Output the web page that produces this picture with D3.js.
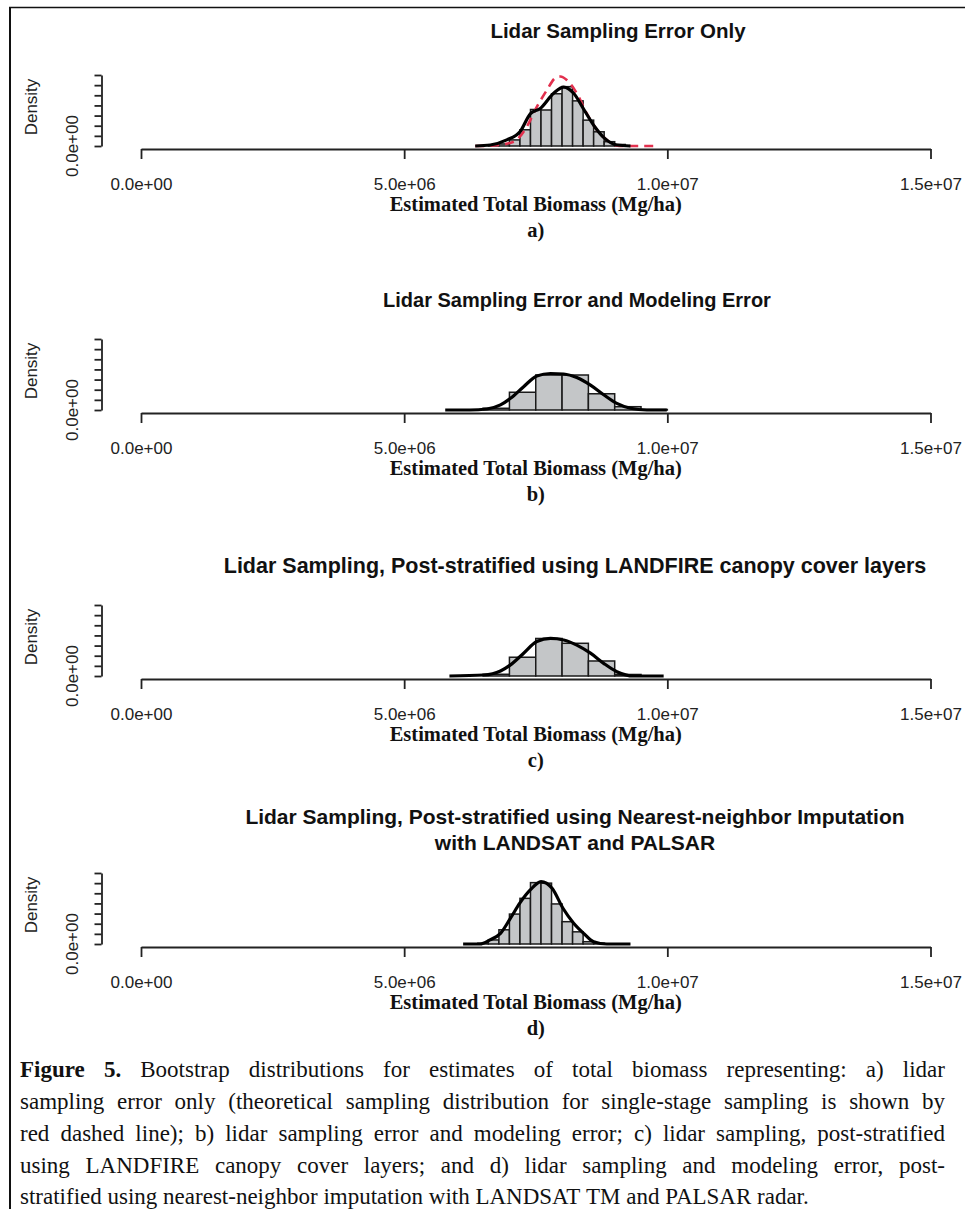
<!DOCTYPE html>
<html>
<head>
<meta charset="UTF-8">
<title>Figure 5 - Bootstrap distributions</title>
<script src="https://d3js.org/d3.v7.min.js"></script>
<style>
body { margin: 0; background: #fff; }
</style>
</head>
<body>
<svg id="fig" width="965" height="1209"></svg>
<script>
// shared axis ticks
var xTicks = [0, 5e6, 1e7, 1.5e7];
var xTickLabels = ["0.0e+00", "5.0e+06", "1.0e+07", "1.5e+07"];
var yTicks = [0, 2e-7, 4e-7, 6e-7, 8e-7, 1e-6, 1.2e-6, 1.4e-6];
var yTickLabels = ["0.0e+00"];

var panelLetters = ["a)", "b)", "c)", "d)"];
var panelTitles = [
	["Lidar Sampling Error Only"],
	["Lidar Sampling Error and Modeling Error"],
	["Lidar Sampling, Post-stratified using LANDFIRE canopy cover layers"],
	["Lidar Sampling, Post-stratified using Nearest-neighbor Imputation", "with LANDSAT and PALSAR"]
];

// histogram bins (left edge) and densities
var binWidthA = 2e5;
var binsA = [6.6e6, 6.8e6, 7.0e6, 7.2e6, 7.4e6, 7.6e6, 7.8e6, 8.0e6, 8.2e6, 8.4e6, 8.6e6, 8.8e6, 9.0e6];
var densA = [0.1e-7, 0.4e-7, 1.2e-7, 3.2e-7, 7.2e-7, 7.1e-7, 10.3e-7, 11.7e-7, 8.9e-7, 5.1e-7, 2.8e-7, 0.85e-7, 0.3e-7];

var binWidthB = 5e5;
var binsB = [6.5e6, 7.0e6, 7.5e6, 8.0e6, 8.5e6, 9.0e6, 9.5e6];
var densB = [0.34e-7, 3.5e-7, 6.9e-7, 6.9e-7, 3.2e-7, 0.65e-7, 0.1e-7];

var binWidthC = 5e5;
var binsC = [6.5e6, 7.0e6, 7.5e6, 8.0e6, 8.5e6, 9.0e6];
var densC = [0.34e-7, 3.7e-7, 7.4e-7, 6.45e-7, 2.96e-7, 0.3e-7];

var binWidthD = 2e5;
var binsD = [6.4e6, 6.6e6, 6.8e6, 7.0e6, 7.2e6, 7.4e6, 7.6e6, 7.8e6, 8.0e6, 8.2e6, 8.4e6, 8.6e6];
var densD = [0.15e-7, 0.8e-7, 2.8e-7, 5.9e-7, 9.0e-7, 12.1e-7, 12.0e-7, 7.9e-7, 4.4e-7, 2.4e-7, 0.45e-7, 0.15e-7];

// kernel density lines (black)
var kdeXA = [6.35e6, 6.635e6, 6.95e6, 7.2e6, 7.4e6, 7.585e6, 7.84e6, 8.03e6, 8.22e6, 8.42e6, 8.62e6, 8.81e6, 9.04e6, 9.3e6];
var kdeYA = [0, 0.2e-7, 1.2e-7, 2.8e-7, 6.4e-7, 7.4e-7, 10.4e-7, 11.6e-7, 10.4e-7, 7.1e-7, 3.8e-7, 1.5e-7, 0.2e-7, 0];

var kdeXB = [5.78e6, 6.25e6, 6.57e6, 6.83e6, 7.02e6, 7.27e6, 7.52e6, 7.78e6, 8.03e6, 8.28e6, 8.54e6, 8.79e6, 9.04e6, 9.3e6, 9.61e6, 9.99e6];
var kdeYB = [0, 0, 0.2e-7, 1e-7, 2.3e-7, 4.6e-7, 6.7e-7, 7.2e-7, 7.1e-7, 6.4e-7, 4.9e-7, 3e-7, 1.3e-7, 0.35e-7, 0, 0];

var kdeXC = [5.86e6, 6.51e6, 6.83e6, 7.02e6, 7.27e6, 7.52e6, 7.78e6, 8.03e6, 8.28e6, 8.54e6, 8.79e6, 9.04e6, 9.36e6, 9.93e6];
var kdeYC = [0, 0.2e-7, 1e-7, 2.2e-7, 4.5e-7, 6.8e-7, 7.4e-7, 7.1e-7, 6.1e-7, 4.5e-7, 2.5e-7, 0.85e-7, 0, 0];

var kdeXD = [6.12e6, 6.44e6, 6.63e6, 6.83e6, 7.02e6, 7.2e6, 7.4e6, 7.6e6, 7.81e6, 8.02e6, 8.22e6, 8.41e6, 8.6e6, 8.85e6, 9.3e6];
var kdeYD = [0, 0, 0.8e-7, 2.1e-7, 5.1e-7, 8.1e-7, 10.7e-7, 12.3e-7, 11e-7, 7e-7, 4.1e-7, 2.1e-7, 0.45e-7, 0, 0];

// theoretical single-stage sampling distribution (red dashed, panel a only)
var normXA = [6.35e6, 6.7e6, 7.08e6, 7.33e6, 7.52e6, 7.71e6, 7.87e6, 7.97e6, 8.09e6, 8.28e6, 8.47e6, 8.66e6, 8.85e6, 9.1e6, 9.8e6];
var normYA = [0, 0.1e-7, 0.85e-7, 3.8e-7, 7.7e-7, 11e-7, 13.4e-7, 13.7e-7, 13e-7, 10.4e-7, 6.4e-7, 3.2e-7, 1.2e-7, 0, 0];

var captionLines = [
	"Figure 5. Bootstrap distributions for estimates of total biomass representing: a) lidar",
	"sampling error only (theoretical sampling distribution for single-stage sampling is shown by",
	"red dashed line); b) lidar sampling error and modeling error; c) lidar sampling, post-stratified",
	"using LANDFIRE canopy cover layers; and d) lidar sampling and modeling error, post-",
	"stratified using nearest-neighbor imputation with LANDSAT TM and PALSAR radar."
];

var panels = [
	{ bins: binsA, dens: densA, bw: binWidthA, kx: kdeXA, ky: kdeYA, nx: normXA, ny: normYA },
	{ bins: binsB, dens: densB, bw: binWidthB, kx: kdeXB, ky: kdeYB },
	{ bins: binsC, dens: densC, bw: binWidthC, kx: kdeXC, ky: kdeYC },
	{ bins: binsD, dens: densD, bw: binWidthD, kx: kdeXD, ky: kdeYD }
];

// layout
var axisY = [149, 413, 679, 947];
var titleX = [618, 577, 575, 575];
var titleDy = [-111, -106, -106, -97];
var titleSize = [20.5, 20, 21.5, 21];
var sans = "'Liberation Sans', Arial, Helvetica, sans-serif";
var serif = "'Liberation Serif', 'Times New Roman', serif";
var ink = "#222";

var svg = d3.select("#fig");
svg.append("rect").attr("width", 965).attr("height", 1209).attr("fill", "#fff");

// frame lines
svg.append("line").attr("x1", 10).attr("x2", 10).attr("y1", 7).attr("y2", 1209)
	.attr("stroke", "#111").attr("stroke-width", 2);
svg.append("line").attr("x1", 9).attr("x2", 965).attr("y1", 7.5).attr("y2", 7.5)
	.attr("stroke", "#111").attr("stroke-width", 1.6);

var x = d3.scaleLinear().domain([0, 1.5e7]).range([141, 930.5]);

panels.forEach(function(p, i)
{
	var y0 = axisY[i];
	var y = d3.scaleLinear().domain([0, 1.4e-6]).range([y0 - 3, y0 - 74]);
	var g = svg.append("g");

	// bars
	g.selectAll("rect.bar").data(p.bins).enter().append("rect")
		.attr("class", "bar")
		.attr("x", function(d) { return x(d); })
		.attr("width", function(d) { return x(d + p.bw) - x(d); })
		.attr("y", function(d, j) { return y(p.dens[j]); })
		.attr("height", function(d, j) { return y(0) - y(p.dens[j]); })
		.attr("fill", "#c4c6c8")
		.attr("stroke", "#1a1a1a")
		.attr("stroke-width", 1.5);

	// red dashed theoretical line
	if (p.nx)
	{
		var nline = d3.line().curve(d3.curveMonotoneX)
			.x(function(d) { return x(d); })
			.y(function(d, j) { return y(p.ny[j]); });
		g.append("path").attr("d", nline(p.nx))
			.attr("fill", "none").attr("stroke", "#e2304e")
			.attr("stroke-width", 2.6).attr("stroke-dasharray", "9,6");
	}

	// black density line
	var kline = d3.line().curve(d3.curveMonotoneX)
		.x(function(d) { return x(d); })
		.y(function(d, j) { return y(p.ky[j]); });
	g.append("path").attr("d", kline(p.kx))
		.attr("fill", "none").attr("stroke", "#000")
		.attr("stroke-width", 3.2).attr("stroke-linejoin", "round");

	// x axis
	var xa = g.append("g").attr("transform", "translate(0," + y0 + ")")
		.call(d3.axisBottom(x).tickValues(xTicks).tickSize(10).tickSizeOuter(0)
			.tickFormat(function(d, j) { return xTickLabels[j]; }));
	xa.select(".domain").attr("stroke", ink).attr("stroke-width", 1.8);
	xa.selectAll(".tick line").attr("stroke", ink).attr("stroke-width", 1.8);
	xa.selectAll(".tick text").attr("font-family", sans).attr("font-size", 17)
		.attr("fill", ink).attr("y", 29).attr("dy", "0.71em");

	// y axis
	var ya = g.append("g").attr("transform", "translate(101.5,0)")
		.call(d3.axisLeft(y).tickValues(yTicks).tickSize(7).tickSizeOuter(0).tickFormat(""));
	ya.select(".domain").attr("stroke", ink).attr("stroke-width", 1.8);
	ya.selectAll(".tick line").attr("stroke", ink).attr("stroke-width", 1.8);

	g.append("text")
		.attr("transform", "translate(78," + y(yTicks[0]) + ") rotate(-90)")
		.attr("text-anchor", "middle")
		.attr("font-family", sans).attr("font-size", 17).attr("fill", ink)
		.text(yTickLabels[0]);

	g.append("text")
		.attr("transform", "translate(37," + (y0 - 42) + ") rotate(-90)")
		.attr("text-anchor", "middle")
		.attr("font-family", sans).attr("font-size", 17).attr("fill", ink)
		.text("Density");

	// title
	var tl = panelTitles[i];
	tl.forEach(function(t, k)
	{
		var ty = y0 + titleDy[i] - (tl.length - 1 - k) * 26;
		g.append("text")
			.attr("x", titleX[i]).attr("y", ty)
			.attr("text-anchor", "middle")
			.attr("font-family", sans).attr("font-size", titleSize[i]).attr("font-weight", "bold")
			.attr("fill", "#111")
			.text(t);
	});

	// x label and panel letter
	g.append("text")
		.attr("x", (x(0) + x(1.5e7)) / 2).attr("y", y0 + 62)
		.attr("text-anchor", "middle")
		.attr("font-family", serif).attr("font-size", 20.5).attr("font-weight", "bold")
		.attr("fill", "#111")
		.text("Estimated Total Biomass (Mg/ha)");

	g.append("text")
		.attr("x", (x(0) + x(1.5e7)) / 2).attr("y", y0 + 88)
		.attr("text-anchor", "middle")
		.attr("font-family", serif).attr("font-size", 20.5).attr("font-weight", "bold")
		.attr("fill", "#111")
		.text(panelLetters[i]);
});

// caption, justified like the journal text
var capSize = 23;
var capLeft = 20, capRight = 945;
var capBase = [1077, 1109, 1141, 1173, 1204];
var cap = svg.append("g").attr("font-family", serif).attr("font-size", capSize).attr("fill", "#111");

var lineWords = captionLines.map(function(line, li)
{
	return line.split(" ").map(function(w, wi)
	{
		var t = cap.append("text").text(w)
			.attr("font-weight", (li == 0 && wi < 2) ? "bold" : "normal");
		return { node: t, w: t.node().getComputedTextLength() };
	});
});

var minGap = 0.22 * capSize;
var sx = 1;
lineWords.forEach(function(words, li)
{
	if (li == lineWords.length - 1) return;
	var tot = d3.sum(words, function(d) { return d.w; }) + minGap * (words.length - 1);
	sx = Math.min(sx, (capRight - capLeft) / tot);
});

lineWords.forEach(function(words, li)
{
	var sum = d3.sum(words, function(d) { return d.w * sx; });
	var last = li == lineWords.length - 1;
	var gap = last ? 0.25 * capSize * sx : (capRight - capLeft - sum) / (words.length - 1);
	var cx = capLeft;
	words.forEach(function(d)
	{
		d.node.attr("transform", "translate(" + cx + "," + capBase[li] + ") scale(" + sx + ",1)");
		cx += d.w * sx + gap;
	});
});
</script>
</body>
</html>
